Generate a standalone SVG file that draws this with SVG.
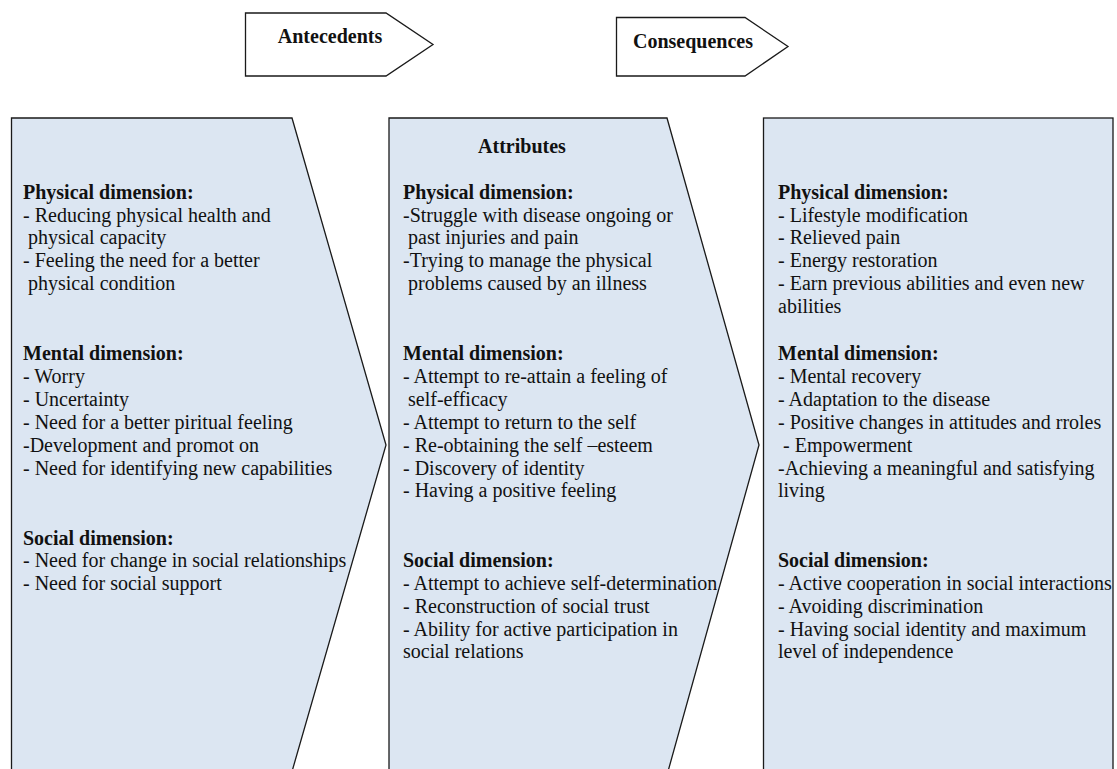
<svg xmlns="http://www.w3.org/2000/svg" width="1117" height="769" viewBox="0 0 1117 769">
<style>
.box{fill:#dce6f2;stroke:#1a1a1a;stroke-width:1.3;stroke-linejoin:miter}
.tag{fill:#ffffff;stroke:#1a1a1a;stroke-width:1.3}
text{font-family:"Liberation Serif","Times New Roman",serif;font-size:20px;fill:#111}
.h{font-weight:bold}
.c{text-anchor:middle}
</style>
<rect width="1117" height="769" fill="#ffffff"/>
<g id="antecedents-tag">
<polygon class="tag" points="245.5,13 386,13 433,44.5 386,76 245.5,76"/>
<text class="h c" x="330" y="43">Antecedents</text>
</g>
<g id="consequences-tag">
<polygon class="tag" points="616.5,17.5 745,17.5 788,46.5 745,76 616.5,76"/>
<text class="h c" x="693" y="48">Consequences</text>
</g>
<g id="antecedents">
<polygon class="box" points="11.5,118 292,118 386,445 291,775 11.5,775"/>
<text class="h" x="23" y="199">Physical dimension:</text>
<text x="23" y="221.5">- Reducing physical health and</text>
<text x="28" y="244">physical capacity</text>
<text x="23" y="267">- Feeling the need for a better</text>
<text x="28" y="290">physical condition</text>
<text class="h" x="23" y="360">Mental dimension:</text>
<text x="23" y="383">- Worry</text>
<text x="23" y="405.5">- Uncertainty</text>
<text x="23" y="428.5">- Need for a better piritual feeling</text>
<text x="23" y="451.5">-Development and promot on</text>
<text x="23" y="474.5">- Need for identifying new capabilities</text>
<text class="h" x="23" y="545">Social dimension:</text>
<text x="23" y="567">- Need for change in social relationships</text>
<text x="23" y="589.5">- Need for social support</text>
</g>
<g id="attributes">
<polygon class="box" points="389,118 667,118 759,445 667,775 389,775"/>
<text class="h c" x="522" y="153">Attributes</text>
<text class="h" x="403" y="199">Physical dimension:</text>
<text x="403" y="221.5">-Struggle with disease ongoing or</text>
<text x="408" y="244">past injuries and pain</text>
<text x="403" y="267">-Trying to manage the physical</text>
<text x="408" y="290">problems caused by an illness</text>
<text class="h" x="403" y="360">Mental dimension:</text>
<text x="403" y="383">- Attempt to re-attain a feeling of</text>
<text x="408" y="405.5">self-efficacy</text>
<text x="403" y="428.5">- Attempt to return to the self</text>
<text x="403" y="451.5">- Re-obtaining the self –esteem</text>
<text x="403" y="474.5">- Discovery of identity</text>
<text x="403" y="497">- Having a positive feeling</text>
<text class="h" x="403" y="566.5">Social dimension:</text>
<text x="403" y="589.5">- Attempt to achieve self-determination</text>
<text x="403" y="612.5">- Reconstruction of social trust</text>
<text x="403" y="635.5">- Ability for active participation in</text>
<text x="403" y="658">social relations</text>
</g>
<g id="consequences">
<rect class="box" x="763.5" y="118" width="349.5" height="657"/>
<text class="h" x="778" y="199">Physical dimension:</text>
<text x="778" y="221.5">- Lifestyle modification</text>
<text x="778" y="244">- Relieved pain</text>
<text x="778" y="267">- Energy restoration</text>
<text x="778" y="290">- Earn previous abilities and even new</text>
<text x="778" y="313">abilities</text>
<text class="h" x="778" y="360">Mental dimension:</text>
<text x="778" y="383">- Mental recovery</text>
<text x="778" y="405.5">- Adaptation to the disease</text>
<text x="778" y="428.5">- Positive changes in attitudes and rroles</text>
<text x="783" y="451.5">- Empowerment</text>
<text x="778" y="474.5">-Achieving a meaningful and satisfying</text>
<text x="778" y="497">living</text>
<text class="h" x="778" y="566.5">Social dimension:</text>
<text x="778" y="589.5">- Active cooperation in social interactions</text>
<text x="778" y="612.5">- Avoiding discrimination</text>
<text x="778" y="635.5">- Having social identity and maximum</text>
<text x="778" y="658">level of independence</text>
</g>
</svg>
